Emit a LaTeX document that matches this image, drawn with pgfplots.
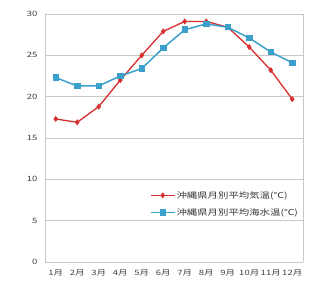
\documentclass[border=0pt]{standalone}
\usepackage{pgfplots}
\pgfplotsset{compat=1.18}
\usepackage{fontspec}
\setmainfont{Noto Sans CJK JP}
\newfontfamily\widefont[FakeStretch=1.3]{Noto Sans CJK JP}
\definecolor{airred}{RGB}{215,45,45}
\definecolor{seablue}{RGB}{60,160,205}
\definecolor{gridgray}{RGB}{200,200,200}
\pgfplotsset{
  mylegend/.style={legend image code/.code={
    \draw[mark repeat=2,mark phase=2,##1] plot coordinates {(0pt,0pt) (12pt,0pt) (24pt,0pt)};}}
}
\begin{document}
\begin{tikzpicture}[x=1pt,y=1pt]
\path[use as bounding box, fill=white] (0,0) rectangle (329,284);
\begin{axis}[
  at={(45pt,22pt)}, anchor=south west,
  scale only axis, width=258pt, height=248pt,
  xmin=0.5, xmax=12.5, ymin=0, ymax=30,
  xtick={1,...,12},
  xticklabels={1月,2月,3月,4月,5月,6月,7月,8月,9月,10月,11月,12月},
  ytick={0,5,10,15,20,25,30},
  ymajorgrids, grid style={gridgray, line width=0.6pt},
  axis line style={gridgray, line width=0.6pt},
  axis x line*=bottom, axis y line*=left,
  tick style={draw=none},
  every tick label/.append style={font=\widefont\fontsize{7.3}{8}\selectfont, text=black!75},
  yticklabel style={xshift=-4pt},
  xticklabel style={yshift=-4pt},
  /pgf/number format/assume math mode=true,
  mylegend,
  legend style={at={(0.985,0.29)}, anchor=north east, draw=none, fill=none,
    font=\widefont\fontsize{8}{9}\selectfont, text=black!80, row sep=7pt,
    legend cell align=left, inner sep=0pt,
    nodes={inner sep=1pt}},
  clip=false,
]
\draw[gridgray, line width=0.6pt] (rel axis cs:1,0) -- (rel axis cs:1,1);
\addplot[airred, line width=1.3pt, mark=diamond*, mark size=2pt, mark options={fill=airred}]
  coordinates {(1,17.3)(2,16.9)(3,18.8)(4,22.0)(5,25.0)(6,27.9)(7,29.1)(8,29.1)(9,28.4)(10,26.0)(11,23.2)(12,19.7)};
\addlegendentry{沖縄県月別平均気温(℃)}
\addplot[seablue, line width=1.5pt, mark=square*, mark size=2.5pt, mark options={fill=seablue}]
  coordinates {(1,22.3)(2,21.3)(3,21.3)(4,22.5)(5,23.4)(6,25.9)(7,28.1)(8,28.8)(9,28.4)(10,27.1)(11,25.4)(12,24.1)};
\addlegendentry{沖縄県月別平均海水温(℃)}
\end{axis}
\end{tikzpicture}
\end{document}
